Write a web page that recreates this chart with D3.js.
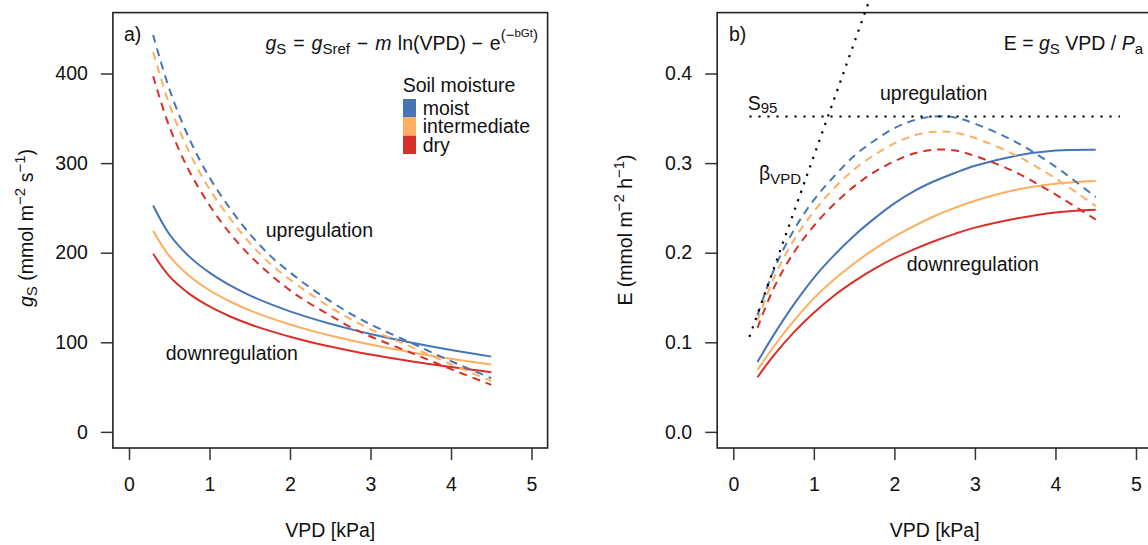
<!DOCTYPE html>
<html>
<head>
  <meta charset="utf-8">
  <style>
    body { margin: 0; background: #fff; }
    svg { display: block; font-family: "Liberation Sans", Arial, Helvetica, sans-serif; }
    .tick text { font-size: 19.5px; fill: #111; }
    .tick line { stroke: #333; stroke-width: 1.5; }
  </style>
</head>
<body>

  <div id="chart"></div>

  <script src="https://d3js.org/d3.v7.min.js"></script>

  <script>
    var vpd = [0.3, 0.5, 0.75, 1, 1.25, 1.5, 1.75, 2, 2.25, 2.5, 2.75, 3, 3.5, 4, 4.5];

    var moisture = ['moist', 'intermediate', 'dry'];
    var colors = ['#4575b4', '#fdae61', '#d73027'];

    // panel a) gS, downregulation (solid)
    var gsDownMoist = [252.7, 220.9, 195.6, 177.7, 163.8, 152.4, 142.8, 134.5, 127.2, 120.6, 114.7, 109.3, 99.7, 91.3, 84.0];
    var gsDownInter = [224.6, 196.4, 174.0, 158.1, 145.8, 135.7, 127.2, 119.8, 113.3, 107.5, 102.3, 97.5, 88.9, 81.6, 75.1];
    var gsDownDry   = [198.8, 173.8, 154.0, 140.0, 129.1, 120.2, 112.7, 106.2, 100.4, 95.3, 90.6, 86.4, 78.9, 72.3, 66.6];
    // panel a) gS, upregulation (dashed)
    var gsUpMoist = [443, 383, 327, 284, 250, 221, 197, 178, 161, 146, 132, 120, 99.5, 79, 60];
    var gsUpInter = [424, 366, 312, 271, 239, 211, 188, 170, 154, 139, 126, 114.5, 95, 75.5, 57];
    var gsUpDry   = [397, 341, 291, 253, 222, 197, 176, 158, 143, 130, 117, 106.5, 88.5, 70, 52.5];

    // panel b) E, downregulation (solid)
    var eDownMoist = [0.078, 0.108, 0.142, 0.172, 0.197, 0.219, 0.238, 0.255, 0.269, 0.280, 0.289, 0.297, 0.308, 0.314, 0.315];
    var eDownInter = [0.069, 0.095, 0.124, 0.149, 0.170, 0.188, 0.204, 0.218, 0.230, 0.241, 0.250, 0.258, 0.270, 0.277, 0.280];
    var eDownDry   = [0.061, 0.085, 0.111, 0.133, 0.152, 0.168, 0.182, 0.194, 0.204, 0.213, 0.221, 0.228, 0.238, 0.245, 0.248];
    // panel b) E, upregulation (dashed)
    var eUpMoist = [0.130, 0.180, 0.225, 0.259, 0.285, 0.308, 0.325, 0.339, 0.348, 0.352, 0.351, 0.344, 0.324, 0.296, 0.262];
    var eUpInter = [0.124, 0.171, 0.214, 0.246, 0.272, 0.293, 0.309, 0.322, 0.331, 0.335, 0.334, 0.328, 0.309, 0.283, 0.252];
    var eUpDry   = [0.116, 0.160, 0.200, 0.230, 0.254, 0.274, 0.290, 0.302, 0.311, 0.315, 0.314, 0.308, 0.290, 0.265, 0.237];

    // reference lines in panel b
    var s95Level = 0.352;
    var s95Vpd = [0.2, 4.8];
    var betaVpd = [0.2, 1.69];
    var betaE = [0.106, 0.482];

    var xTicks = [0, 1, 2, 3, 4, 5];
    var gsTicks = [0, 100, 200, 300, 400];
    var eTicks = [0, 0.1, 0.2, 0.3, 0.4];

    var W = 1148, H = 545;
    var FS = 19.5, FSS = 15, FSSS = 11.5;

    var svg = d3.select('#chart')
        .append('svg')
        .attr('width', W)
        .attr('height', H);

    // text with sub/superscripts: parts = [text, {it, shift, size}]
    function richText(parent, x, y, anchor, parts, transform) {
      var t = parent.append('text')
          .attr('x', x).attr('y', y)
          .attr('text-anchor', anchor)
          .attr('font-size', FS)
          .attr('fill', '#111');
      if (transform) t.attr('transform', transform);
      var prev = 0;
      parts.forEach(function (p) {
        var o = p[1] || {};
        var shift = o.shift || 0;
        var ts = t.append('tspan')
            .attr('dy', shift - prev)
            .attr('font-size', o.size || FS)
            .text(p[0]);
        if (o.it) ts.attr('font-style', 'italic');
        if (o.dx) ts.attr('dx', o.dx);
        prev = shift;
      });
      return t;
    }

    function drawPanel(p) {
      var x = d3.scaleLinear().domain([-0.2, 5.2]).range(p.xRange);
      var y = d3.scaleLinear().domain(p.yDomain).range([448, 12.6]);
      var g = svg.append('g');

      g.append('g')
          .attr('transform', 'translate(0,448)')
          .call(d3.axisBottom(x).tickValues(xTicks).tickFormat(d3.format('d'))
              .tickSize(12).tickPadding(17.5).tickSizeOuter(0))
          .call(function (a) { a.select('.domain').remove(); a.attr('font-size', null).attr('font-family', null); });

      g.append('g')
          .attr('transform', 'translate(' + p.xRange[0] + ',0)')
          .call(d3.axisLeft(y).tickValues(p.yTicks).tickFormat(p.yFormat).tickSize(12).tickPadding(13).tickSizeOuter(0))
          .call(function (a) { a.select('.domain').remove(); a.attr('font-size', null).attr('font-family', null); });

      g.append('rect')
          .attr('x', p.xRange[0]).attr('y', 12.6)
          .attr('width', p.xRange[1] - p.xRange[0])
          .attr('height', 448 - 12.6)
          .attr('fill', 'none')
          .attr('stroke', '#222')
          .attr('stroke-width', 1.6);

      var line = d3.line()
          .x(function (d, i) { return x(vpd[i]); })
          .y(function (d) { return y(d); })
          .curve(d3.curveCatmullRom.alpha(0.5));

      p.down.forEach(function (s, i) {
        g.append('path')
            .attr('d', line(s))
            .attr('fill', 'none')
            .attr('stroke', colors[i])
            .attr('stroke-width', 2);
      });
      p.up.forEach(function (s, i) {
        g.append('path')
            .attr('d', line(s))
            .attr('fill', 'none')
            .attr('stroke', colors[i])
            .attr('stroke-width', 2)
            .attr('stroke-dasharray', '8,6');
      });

      // x axis title
      g.append('text')
          .attr('x', (p.xRange[0] + p.xRange[1]) / 2)
          .attr('y', 537)
          .attr('text-anchor', 'middle')
          .attr('font-size', FS)
          .attr('fill', '#111')
          .text('VPD [kPa]');

      return {g: g, x: x, y: y};
    }

    // ---- panel a
    var pa = drawPanel({
      xRange: [112.9, 547.6],
      yDomain: [-18, 468],
      yTicks: gsTicks,
      yFormat: d3.format('d'),
      down: [gsDownMoist, gsDownInter, gsDownDry],
      up: [gsUpMoist, gsUpInter, gsUpDry]
    });

    richText(pa.g, 0, 0, 'middle', [
      ['g', {it: true}], ['S', {shift: 4, size: FSS}],
      [' (mmol m'], ['\u22122', {shift: -8, size: FSS}],
      [' s'], ['\u22121', {shift: -8, size: FSS}], [')']
    ], 'translate(33.3,228) rotate(-90)');

    pa.g.append('text').attr('x', 124).attr('y', 41).attr('font-size', FS).attr('fill', '#111').text('a)');

    richText(pa.g, 538, 50, 'end', [
      ['g', {it: true}], ['S', {shift: 4, size: FSS}], [' = ', {dx: 1.5}],
      ['g', {it: true, dx: 1.5}], ['Sref', {shift: 4, size: FSS}], [' \u2212 ', {dx: 1.5}],
      ['m', {it: true, dx: 1.5}], [' ln(VPD) \u2212 ', {dx: 1}], ['e', {dx: 1.5}],
      ['(\u2212', {shift: -10, size: FSS}], ['bGt', {shift: -13, size: FSSS}], [')', {shift: -10, size: FSS}]
    ]);

    // legend
    pa.g.append('text').attr('x', 402.7).attr('y', 91.7).attr('font-size', FS).attr('fill', '#111').text('Soil moisture');
    moisture.forEach(function (m, i) {
      pa.g.append('rect')
          .attr('x', 403).attr('y', 99 + i * 18.35)
          .attr('width', 13).attr('height', 18.35)
          .attr('fill', colors[i]);
      pa.g.append('text')
          .attr('x', 422.7).attr('y', 115 + i * 18.35)
          .attr('font-size', FS).attr('fill', '#111')
          .text(m);
    });

    pa.g.append('text').attr('x', 265.7).attr('y', 237).attr('font-size', FS).attr('fill', '#111').text('upregulation');
    pa.g.append('text').attr('x', 165.7).attr('y', 360).attr('font-size', FS).attr('fill', '#111').text('downregulation');

    // ---- panel b
    var pb = drawPanel({
      xRange: [717.2, 1152.1],
      yDomain: [-0.018, 0.468],
      yTicks: eTicks,
      yFormat: d3.format('.1f'),
      down: [eDownMoist, eDownInter, eDownDry],
      up: [eUpMoist, eUpInter, eUpDry]
    });

    richText(pb.g, 0, 0, 'middle', [
      ['E (mmol m'], ['\u22122', {shift: -8, size: FSS}],
      [' h'], ['\u22121', {shift: -8, size: FSS}], [')']
    ], 'translate(632,230) rotate(-90)');

    pb.g.append('text').attr('x', 729).attr('y', 41).attr('font-size', FS).attr('fill', '#111').text('b)');

    richText(pb.g, 1143, 50, 'end', [
      ['E = '], ['g', {it: true}], ['S', {shift: 4, size: FSS}], [' VPD / '],
      ['P', {it: true}], ['a', {shift: 4, size: FSS}]
    ]);

    // S95 and beta_VPD dotted lines
    pb.g.append('line')
        .attr('x1', pb.x(s95Vpd[0])).attr('x2', pb.x(s95Vpd[1]))
        .attr('y1', pb.y(s95Level)).attr('y2', pb.y(s95Level))
        .attr('stroke', '#000').attr('stroke-width', 2.2)
        .attr('stroke-dasharray', '2.2,6.8');
    pb.g.append('line')
        .attr('x1', pb.x(betaVpd[0])).attr('x2', pb.x(betaVpd[1]))
        .attr('y1', pb.y(betaE[0])).attr('y2', pb.y(betaE[1]))
        .attr('stroke', '#000').attr('stroke-width', 2.2)
        .attr('stroke-dasharray', '2.2,6.8');

    richText(pb.g, 747.7, 110, 'start', [['S'], ['95', {shift: 3, size: FSS}]]);
    richText(pb.g, 759, 180, 'start', [['\u03b2'], ['VPD', {shift: 3.5, size: FSS}]]);

    pb.g.append('text').attr('x', 880).attr('y', 100).attr('font-size', FS).attr('fill', '#111').text('upregulation');
    pb.g.append('text').attr('x', 906.7).attr('y', 271).attr('font-size', FS).attr('fill', '#111').text('downregulation');
  </script>
</body>
</html>
